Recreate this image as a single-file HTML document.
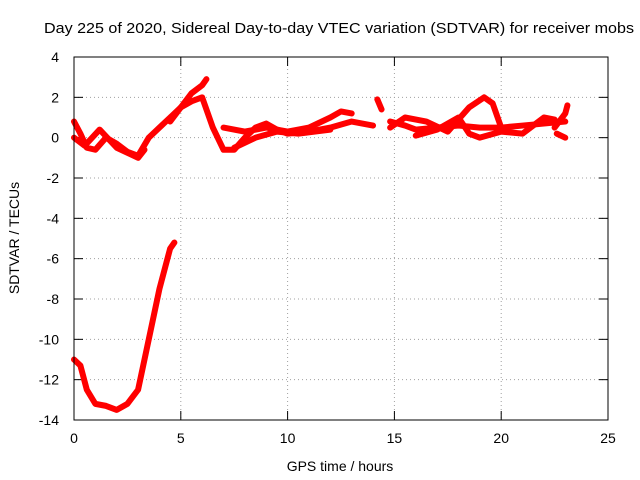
<!DOCTYPE html>
<html><head><meta charset="utf-8"><style>
body{margin:0;background:#fff}
svg{display:block;font-family:"Liberation Sans",sans-serif;font-size:14px}
</style></head><body>
<svg id="chart" width="640" height="480" viewBox="0 0 640 480">
<text x="44" y="33" textLength="590" lengthAdjust="spacingAndGlyphs" style="font-size:15px">Day 225 of 2020, Sidereal Day-to-day VTEC variation (SDTVAR) for receiver mobs</text>
<text x="340" y="471" text-anchor="middle">GPS time / hours</text>
<text transform="translate(19,238) rotate(-90)" text-anchor="middle">SDTVAR / TECUs</text>
<g id="grid"></g>
<g id="ticks"></g>
<g id="series"></g>
<rect x="74" y="57" width="534" height="363" fill="none" stroke="#000" stroke-width="1"/>
</svg>
<script>
const xTicks=[0,5,10,15,20,25];
const yTicks=[4,2,0,-2,-4,-6,-8,-10,-12,-14];
const trackLow=[[0,-11],[0.3,-11.3],[0.6,-12.5],[1,-13.2],[1.5,-13.3],[2,-13.5],[2.5,-13.2],[3,-12.5],[3.5,-10],[4,-7.5],[4.5,-5.5],[4.7,-5.2]];
const trackMain=[[0,0.8],[0.3,0.2],[0.6,-0.5],[1,-0.6],[1.5,0],[2,-0.3],[2.5,-0.7],[3,-0.9],[3.5,0],[4,0.5],[4.5,1],[5,1.5],[5.5,1.8],[6,2],[6.5,0.5],[7,-0.6],[7.5,-0.6],[8,0],[8.5,0.5],[9,0.7],[9.5,0.4],[10,0.2],[11,0.3],[12,0.5],[13,0.8],[14,0.6]];
const trackUpper=[[4.5,0.8],[5,1.5],[5.5,2.2],[6,2.6],[6.2,2.9]];
const trackMid=[[7,0.5],[8,0.3],[9,0.5],[10,0.3],[11,0.5],[12,1],[12.5,1.3],[13,1.2]];
const trackEarly=[[0,0],[0.5,-0.4],[1.2,0.4],[2,-0.5],[3,-1],[3.3,-0.6]];
const trackMid2=[[7.5,-0.5],[8.5,0],[9.5,0.3],[10.5,0.2],[12,0.4]];
const trackRight=[[14.8,0.8],[15.5,0.6],[16,0.4],[17,0.5],[18,0.6],[19,0.5],[20,0.5],[21,0.6],[22,0.7],[23,0.8]];
const trackRight2=[[14.8,0.5],[15.5,1],[16.5,0.8],[17.5,0.3],[18.5,1.5],[19.2,2],[19.6,1.7],[20,0.5]];
const trackRight3=[[16,0.1],[17,0.4],[18,1],[18.5,0.2],[19,0],[20,0.3],[21,0.2],[22,1],[22.5,0.9]];
const trackEnd=[[22.5,0.5],[23,1.2],[23.1,1.6]];
const trackEnd2=[[22.6,0.2],[23,0.0]];
const trackGap=[[14.2,1.9],[14.4,1.4]];
const tracks=[trackLow,trackMain,trackUpper,trackMid,trackEarly,trackMid2,trackRight,trackRight2,trackRight3,trackEnd,trackEnd2,trackGap];
const NS='http://www.w3.org/2000/svg';
const X=v=>74+v*(534/25), Y=v=>57+(4-v)*(363/18);
function mk(t,a,p){const e=document.createElementNS(NS,t);for(const k in a)e.setAttribute(k,a[k]);p.appendChild(e);return e;}
const grid=document.getElementById('grid'),ticks=document.getElementById('ticks'),ser=document.getElementById('series');
xTicks.forEach(v=>{const x=X(v);
 if(v>0&&v<25){const l=mk('line',{x1:x,x2:x,y1:57,y2:420,stroke:'#a0a0a0','stroke-dasharray':'1,3'},grid);}
 mk('line',{x1:x,x2:x,y1:420,y2:411,stroke:'#000'},ticks);mk('line',{x1:x,x2:x,y1:57,y2:66,stroke:'#000'},ticks);
 const t=mk('text',{x:x,y:443,'text-anchor':'middle'},ticks);t.textContent=v;});
yTicks.forEach(v=>{const y=Y(v);
 if(v<4&&v>-14){const l=mk('line',{x1:74,x2:608,y1:y,y2:y,stroke:'#a0a0a0','stroke-dasharray':'1,3'},grid);}
 mk('line',{x1:74,x2:83,y1:y,y2:y,stroke:'#000'},ticks);mk('line',{x1:608,x2:599,y1:y,y2:y,stroke:'#000'},ticks);
 const t=mk('text',{x:59,y:y+5,'text-anchor':'end'},ticks);t.textContent=v;});
tracks.forEach(tr=>{
 const p=mk('polyline',{points:tr.map(d=>X(d[0])+','+Y(d[1])).join(' '),fill:'none',stroke:'#f00','stroke-width':6,'stroke-linejoin':'round','stroke-linecap':'round'},ser);
 
 
});
</script>
</body></html>
